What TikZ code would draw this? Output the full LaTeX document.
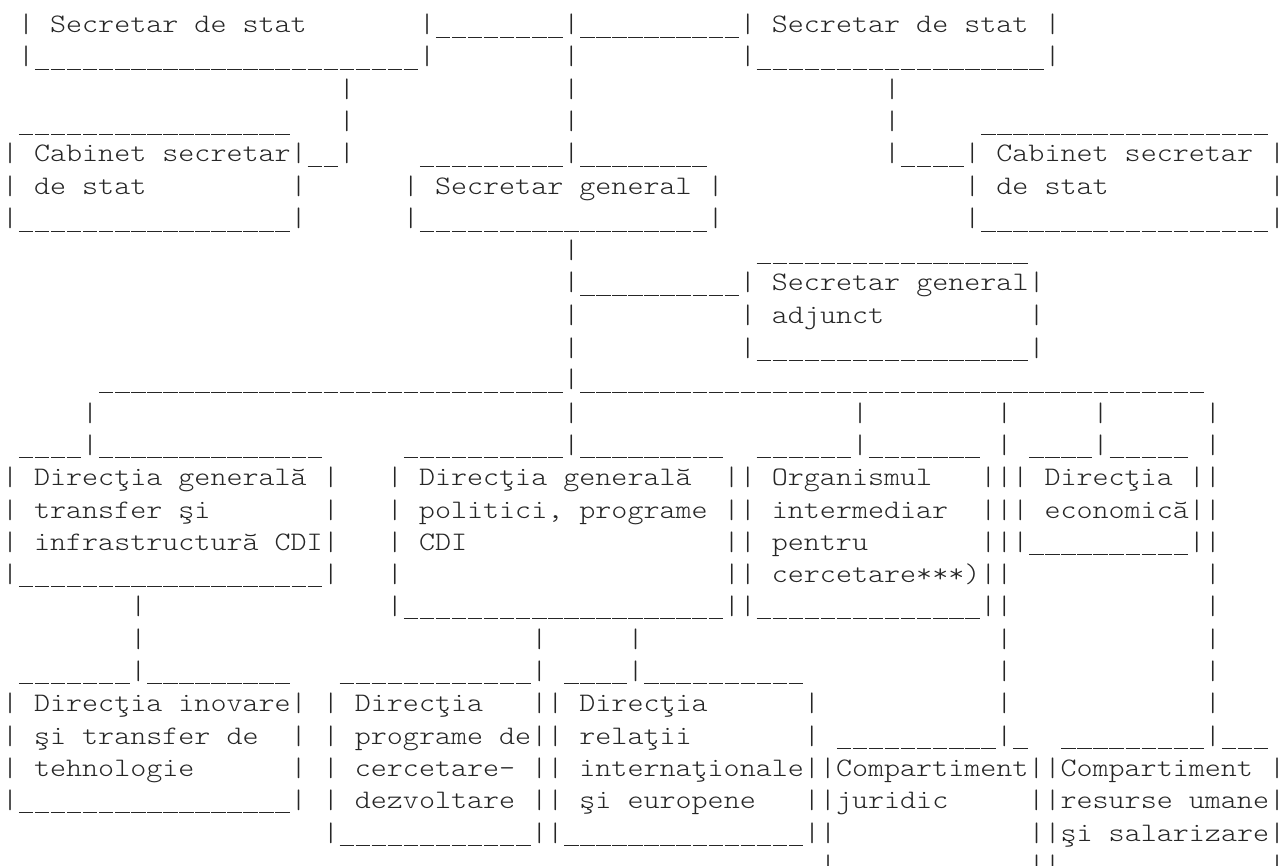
\documentclass[tikz,border=0pt]{standalone}
\usepackage{fontspec}
\newfontfamily\asciifont{lmmonolt10-regular}[Extension=.otf, FakeStretch=1.1429]
\ExplSyntaxOn
\NewDocumentCommand\undr{m}{\prg_replicate:nn{#1}{\kern0.8pt\rule[-5pt]{14.44pt}{1pt}\kern0.8pt}}
\NewDocumentCommand\blnk{m}{\prg_replicate:nn{#1}{\nobreakspace}}
\ExplSyntaxOff
\newcommand\edge{\kern-4pt}
\tikzset{asciirow/.style={anchor=base west, inner sep=0pt, outer sep=0pt,
  font=\asciifont\fontsize{26.73}{32}\selectfont, text=black!85}}
\newcommand\Row[3]{\node[asciirow] (r#1) at ({2+16.04*#2},{-33-round(32.3*(#1-1))}) {#3};}
\begin{document}
\begin{tikzpicture}[x=1pt,y=1pt]
\useasboundingbox (0,0) rectangle (1282,-866);
\Row{1}{1}{|~Secretar~de~stat\blnk{7}|\undr{8}|\undr{10}|~Secretar~de~stat~|}
\Row{2}{1}{|\undr{24}|\blnk{8}|\blnk{10}|\undr{18}|}
\Row{3}{21}{|\blnk{13}|\blnk{19}|}
\Row{4}{1}{\undr{17}\blnk{3}|\blnk{13}|\blnk{19}|\blnk{5}\undr{18}}
\Row{5}{0}{|~Cabinet~secretar|\undr{2}|\blnk{4}\undr{9}|\undr{8}\blnk{11}|\undr{4}|~Cabinet~secretar~|\edge}
\Row{6}{0}{|~de~stat\blnk{9}|\blnk{6}|~Secretar~general~|\blnk{15}|~de~stat\blnk{10}|\edge}
\Row{7}{0}{|\undr{17}|\blnk{6}|\undr{18}|\blnk{15}|\undr{18}|\edge}
\Row{8}{35}{|\blnk{11}\undr{17}}
\Row{9}{35}{|\undr{10}|~Secretar~general|}
\Row{10}{35}{|\blnk{10}|~adjunct\blnk{9}|}
\Row{11}{35}{|\blnk{10}|\undr{17}|}
\Row{12}{6}{\undr{29}|\undr{39}}
\Row{13}{5}{|\blnk{29}|\blnk{17}|\blnk{8}|\blnk{5}|\blnk{6}|}
\Row{14}{1}{\undr{4}|\undr{14}\blnk{5}\undr{10}|\undr{9}\blnk{2}\undr{6}|\undr{7}~|~\undr{4}|\undr{5}~|}
\Row{15}{0}{|~Direcţia~generală~|\blnk{3}|~Direcţia~generală\blnk{2}||~Organismul\blnk{3}|||~Direcţia~||}
\Row{16}{0}{|~transfer~şi\blnk{7}|\blnk{3}|~politici,~programe~||~intermediar\blnk{2}|||~economică||}
\Row{17}{0}{|~infrastructură~CDI|\blnk{3}|~CDI\blnk{16}||~pentru\blnk{7}|||\undr{10}||}
\Row{18}{0}{|\undr{19}|\blnk{3}|\blnk{20}||~cercetare***)||\blnk{12}|}
\Row{19}{8}{|\blnk{15}|\undr{20}||\undr{14}||\blnk{12}|}
\Row{20}{8}{|\blnk{24}|\blnk{5}|\blnk{22}|\blnk{12}|}
\Row{21}{1}{\undr{7}|\undr{9}\blnk{3}\undr{12}|~\undr{4}|\undr{10}\blnk{12}|\blnk{12}|}
\Row{22}{0}{|~Direcţia~inovare|~|~Direcţia\blnk{3}||~Direcţia\blnk{6}|\blnk{11}|\blnk{12}|}
\Row{23}{0}{|~şi~transfer~de\blnk{2}|~|~programe~de||~relaţii\blnk{7}|~\undr{10}|\undr{1}\blnk{2}\undr{9}|\undr{3}}
\Row{24}{0}{|~tehnologie\blnk{6}|~|~cercetare-~||~internaţionale||Compartiment||Compartiment~|\edge}
\Row{25}{0}{|\undr{17}|~|~dezvoltare~||~şi~europene\blnk{3}||juridic\blnk{5}||resurse~umane|\edge}
\Row{26}{20}{|\undr{12}||\undr{15}||\blnk{12}||şi~salarizare|\edge}
\Row{27}{51}{|\blnk{12}||\blnk{13}|\edge}
\end{tikzpicture}
\end{document}
